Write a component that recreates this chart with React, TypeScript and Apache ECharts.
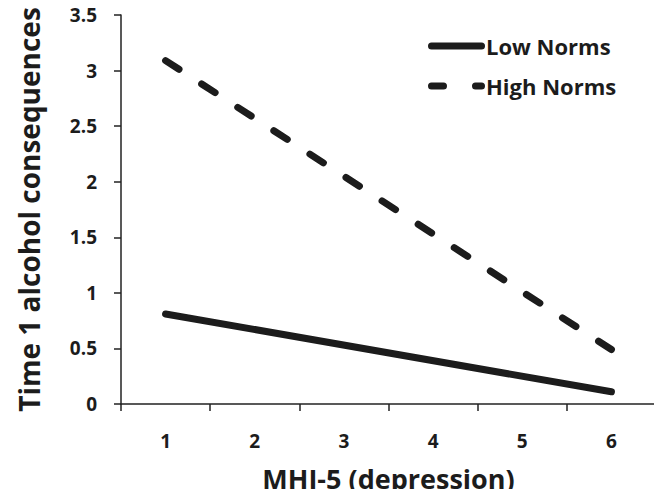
import React, { useEffect, useRef } from "react";
import * as echarts from "echarts";

const categories = ["1", "2", "3", "4", "5", "6"];
const lowNorms: [string, number][] = [["1", 0.81], ["6", 0.11]];
const highNorms: [string, number][] = [["1", 3.09], ["6", 0.49]];
const yTicks = { min: 0, max: 3.5, interval: 0.5 };

const FONT = "'Open Sans', 'Noto Sans', sans-serif";
const INK = "#1c1c1c";

const solidIcon = "path://M3.5,0 H53.5 A3.5,3.5 0 0 1 53.5,7 H3.5 A3.5,3.5 0 0 1 3.5,0 Z";
const dashedIcon =
  "path://M3.5,0 H15.5 A3.5,3.5 0 0 1 15.5,7 H3.5 A3.5,3.5 0 0 1 3.5,0 Z M47.5,0 H53.5 A3.5,3.5 0 0 1 53.5,7 H47.5 A3.5,3.5 0 0 1 47.5,0 Z";

export default function App() {
  const ref = useRef<HTMLDivElement>(null);
  useEffect(() => {
    if (!ref.current) return;
    const chart = echarts.init(ref.current, null, { renderer: "svg" });
    chart.setOption({
      animation: false,
      backgroundColor: "#ffffff",
      textStyle: { fontFamily: FONT },
      grid: { left: 121, right: 6, top: 15, bottom: 93, containLabel: false, outerBoundsMode: "none" },
      legend: {
        orient: "vertical",
        left: 428,
        top: 33,
        padding: 0,
        itemWidth: 57,
        itemHeight: 7,
        itemGap: 14,
        textStyle: { fontFamily: FONT, fontWeight: "bold", fontSize: 22, lineHeight: 26, color: INK, padding: [0, 0, 0, -4] },
        data: [
          { name: "Low Norms", icon: solidIcon, itemStyle: { color: INK } },
          { name: "High Norms", icon: dashedIcon, itemStyle: { color: INK } },
        ],
      },
      xAxis: {
        type: "category",
        data: categories,
        boundaryGap: true,
        name: "MHI-5 (depression)",
        nameLocation: "middle",
        nameGap: 59,
        nameTextStyle: { fontFamily: FONT, fontWeight: "bold", fontSize: 27, lineHeight: 30, color: INK },
        axisLine: { lineStyle: { color: "#222", width: 1.5 } },
        axisTick: { show: true, alignWithLabel: false, length: 7, lineStyle: { color: "#222", width: 1.5 } },
        axisLabel: { margin: 27, fontFamily: FONT, fontWeight: "bold", fontSize: 19, color: INK },
        splitLine: { show: false },
      },
      yAxis: {
        type: "value",
        min: yTicks.min,
        max: yTicks.max,
        interval: yTicks.interval,
        name: "Time 1 alcohol consequences",
        nameLocation: "middle",
        nameGap: 78,
        nameTextStyle: { fontFamily: FONT, fontWeight: "bold", fontSize: 28, color: INK },
        axisLine: { show: true, lineStyle: { color: "#222", width: 1.5 } },
        axisTick: { show: true, length: 7, lineStyle: { color: "#222", width: 1.5 } },
        axisLabel: { margin: 24, fontFamily: FONT, fontWeight: "bold", fontSize: 19, color: INK },
        splitLine: { show: false },
      },
      series: [
        {
          name: "Low Norms",
          type: "line",
          data: lowNorms,
          symbol: "none",
          lineStyle: { color: INK, width: 7, cap: "round" },
          itemStyle: { color: INK },
        },
        {
          name: "High Norms",
          type: "line",
          data: highNorms,
          symbol: "none",
          lineStyle: { color: INK, width: 7, type: [16, 27], cap: "round" },
          itemStyle: { color: INK },
        },
      ],
    });
    return () => chart.dispose();
  }, []);
  return <div ref={ref} style={{ width: 662, height: 497, margin: -8 }} />;
}
